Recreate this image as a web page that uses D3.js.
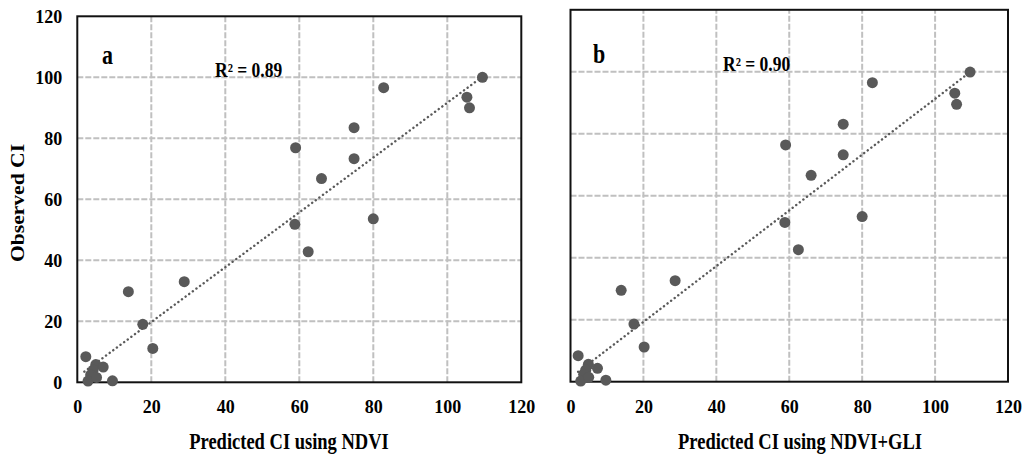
<!DOCTYPE html>
<html>
<head>
<meta charset="utf-8">
<script src="https://cdn.jsdelivr.net/npm/d3@7"></script>
<style>
  html, body { margin: 0; padding: 0; background: #fff; }
  svg { display: block; }
  text { font-family: "Liberation Serif", "Times New Roman", serif; font-weight: bold; fill: #000; }
</style>
</head>
<body>
<svg id="chart" width="1026" height="455"></svg>
<script>
// ---- data ----
const predA = [109.5, 105.3, 106.0, 82.8, 74.8, 59.0, 74.8, 66.0, 80.0, 58.8, 62.4, 28.9, 13.8, 17.7, 20.4, 2.3, 5.0, 7.0, 4.3, 3.6, 2.9, 5.2, 9.5];
const obsA  = [100.0, 93.5, 90.0, 96.6, 83.5, 76.9, 73.3, 66.8, 53.6, 51.8, 42.8, 33.0, 29.7, 19.0, 11.1, 8.4, 5.8, 5.0, 4.0, 2.4, 0.4, 1.6, 0.5];
const predB = [109.6, 105.4, 105.9, 82.8, 74.8, 59.0, 74.8, 66.0, 80.0, 58.8, 62.5, 28.7, 13.9, 17.4, 20.2, 2.1, 4.9, 7.4, 4.2, 3.6, 2.8, 5.0, 9.7];
const obsB  = [99.9, 93.1, 89.5, 96.5, 83.1, 76.4, 73.2, 66.6, 53.3, 51.4, 42.6, 32.6, 29.5, 18.6, 11.2, 8.4, 5.6, 4.3, 3.8, 2.4, 0.2, 1.4, 0.5];
const trendA = [[1.9, 3.5], [109.5, 100.2]];
const trendB = [[2.1, 3.2], [109.6, 99.9]];
const xTicks = [0, 20, 40, 60, 80, 100, 120];
const yTicks = [0, 20, 40, 60, 80, 100, 120];
const panelLabels = ["a", "b"];
const r2Labels = ["R² = 0.89", "R² = 0.90"];
const xTitles = ["Predicted CI using NDVI", "Predicted CI using NDVI+GLI"];
const yTitle = "Observed CI";

// ---- layout ----
const svg = d3.select("#chart");
const panels = [
  { pred: predA, obs: obsA, trend: trendA, xr: [77.3, 521.3], yr: [382.3, 16.3], yLabels: true,
    label: panelLabels[0], lx: 102, ly: 64, r2: r2Labels[0], rx: 215, ry: 77, title: xTitles[0], tx: 289 },
  { pred: predB, obs: obsB, trend: trendB, xr: [570.5, 1008], yr: [381.7, 9.8], yLabels: false,
    label: panelLabels[1], lx: 593, ly: 63, r2: r2Labels[1], rx: 723, ry: 71, title: xTitles[1], tx: 800 }
];

function stretchedText(g, str, x, y, size, anchor, sy) {
  return g.append("text")
    .attr("transform", `translate(${x},${y}) scale(1,${sy})`)
    .attr("font-size", size)
    .attr("text-anchor", anchor)
    .text(str);
}

panels.forEach(p => {
  const x = d3.scaleLinear().domain([0, 120]).range(p.xr);
  const y = d3.scaleLinear().domain([0, 120]).range(p.yr);
  const g = svg.append("g");

  // gridlines
  g.append("g").selectAll("line.h").data(yTicks.filter(t => t > 0 && t < 120)).join("line")
    .attr("x1", p.xr[0]).attr("x2", p.xr[1])
    .attr("y1", d => y(d)).attr("y2", d => y(d))
    .attr("stroke", "#c0c0c0").attr("stroke-width", 2).attr("stroke-dasharray", "6,2");
  g.append("g").selectAll("line.v").data(xTicks.filter(t => t > 0 && t < 120)).join("line")
    .attr("y1", p.yr[0]).attr("y2", p.yr[1])
    .attr("x1", d => x(d)).attr("x2", d => x(d))
    .attr("stroke", "#c0c0c0").attr("stroke-width", 2).attr("stroke-dasharray", "6,2");

  // frame
  g.append("rect")
    .attr("x", p.xr[0]).attr("y", p.yr[1])
    .attr("width", p.xr[1] - p.xr[0]).attr("height", p.yr[0] - p.yr[1])
    .attr("fill", "none").attr("stroke", "#111").attr("stroke-width", 2);

  // x axis tick labels
  const xAxis = g.append("g").attr("transform", `translate(0,${p.yr[0]})`)
    .call(d3.axisBottom(x).tickValues(xTicks).tickSize(0).tickPadding(0));
  xAxis.select(".domain").remove();
  xAxis.selectAll("text")
    .attr("font-size", 18).attr("fill", "#000").attr("font-family", null).attr("font-weight", null)
    .attr("dy", null).attr("y", null)
    .attr("transform", "translate(0,31) scale(1,1.1)");

  if (p.yLabels) {
    const yAxis = g.append("g").attr("transform", `translate(${p.xr[0]},0)`)
      .call(d3.axisLeft(y).tickValues(yTicks).tickSize(0).tickPadding(0));
    yAxis.select(".domain").remove();
    yAxis.selectAll("text")
      .attr("font-size", 18).attr("fill", "#000").attr("font-family", null).attr("font-weight", null)
      .attr("x", null).attr("dy", null)
      .attr("transform", "translate(-15,6.5) scale(1,1.1)");
  }

  // trendline
  g.append("line")
    .attr("x1", x(p.trend[0][0])).attr("y1", y(p.trend[0][1]))
    .attr("x2", x(p.trend[1][0])).attr("y2", y(p.trend[1][1]))
    .attr("stroke", "#5a5a5a").attr("stroke-width", 2.4)
    .attr("stroke-linecap", "round").attr("stroke-dasharray", "0.1,4.4");

  // points
  g.append("g").selectAll("circle").data(p.pred.map((v, i) => [v, p.obs[i]])).join("circle")
    .attr("cx", d => x(d[0])).attr("cy", d => y(d[1])).attr("r", 5.5)
    .attr("fill", "#595959");

  // panel labels
  stretchedText(g, p.label, p.lx, p.ly, 22, "start", 1.2);
  stretchedText(g, p.r2, p.rx, p.ry, 17.5, "start", 1.15);
  stretchedText(g, p.title, p.tx, 449, 18.5, "middle", 1.25);
});

// y title
svg.append("text")
  .attr("transform", "translate(24,203) rotate(-90) scale(1.2,1)")
  .attr("font-size", 18).attr("text-anchor", "middle")
  .text(yTitle);
</script>
</body>
</html>
